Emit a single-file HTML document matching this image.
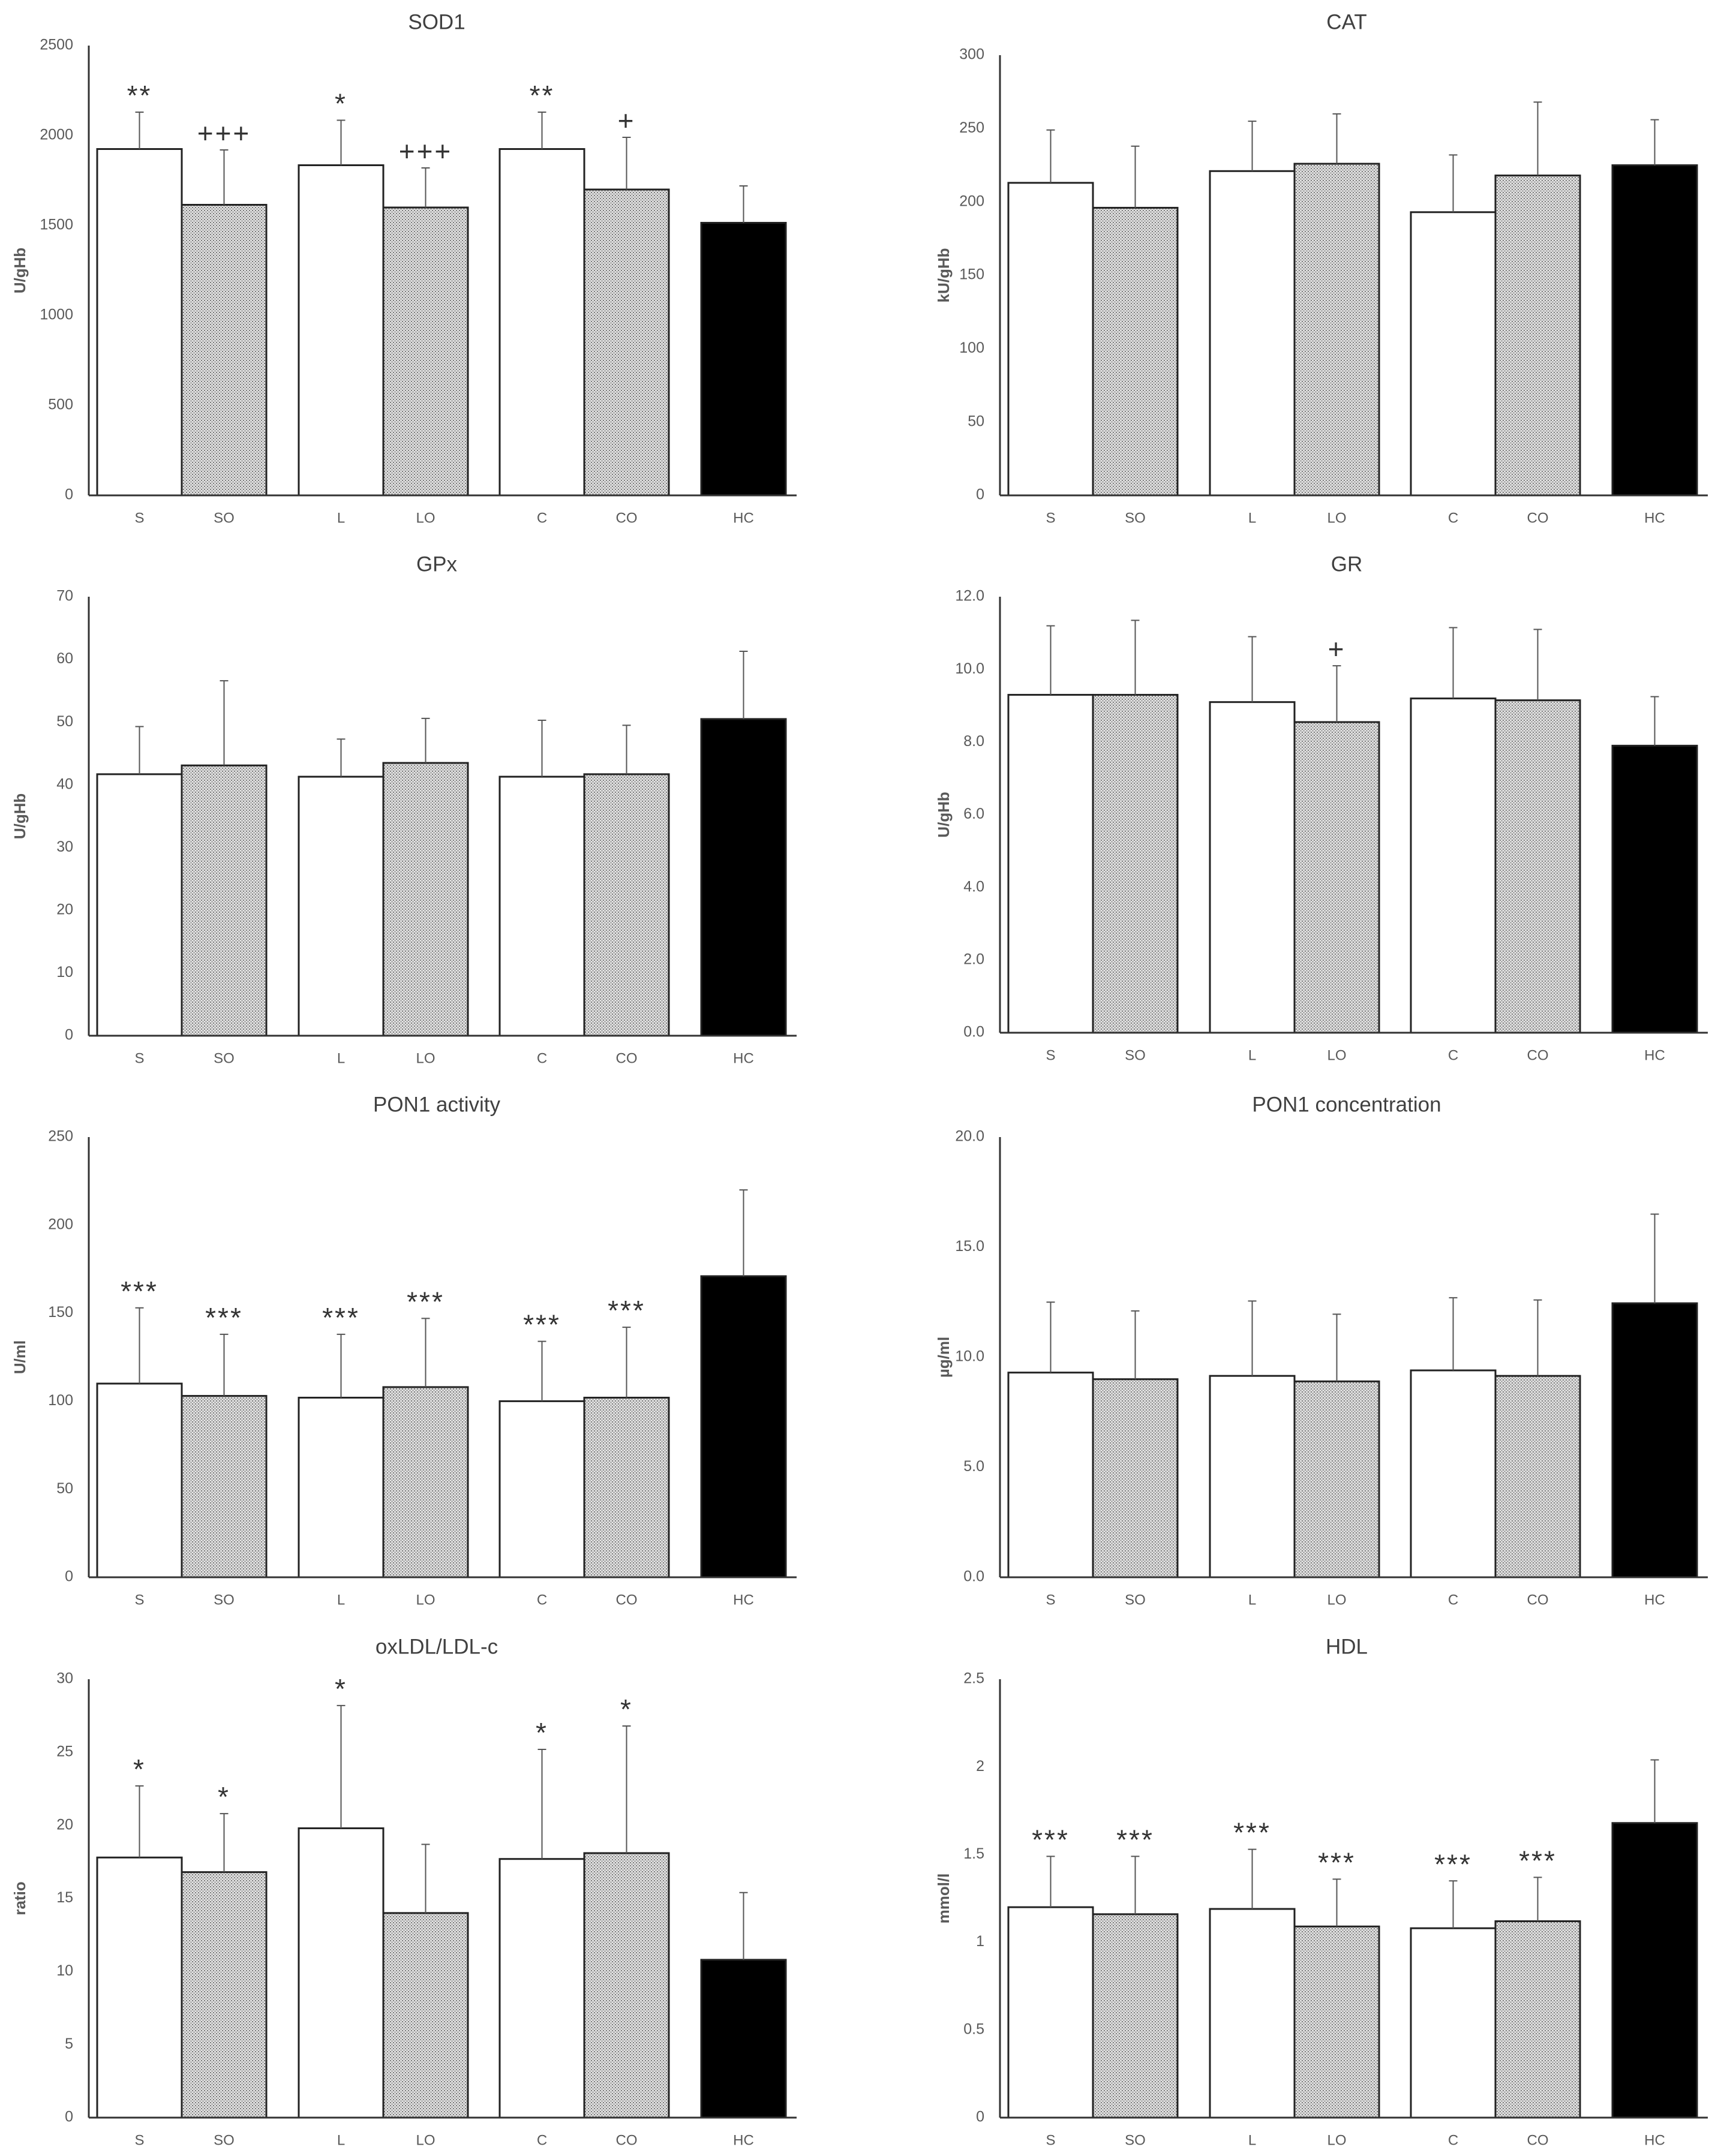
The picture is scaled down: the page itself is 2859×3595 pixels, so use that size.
<!DOCTYPE html>
<html><head><meta charset="utf-8">
<style>
html,body{margin:0;padding:0;background:#fff;}
svg{display:block;font-family:"Liberation Sans",sans-serif;}
</style></head>
<body>
<svg id="fig" width="2859" height="3595" viewBox="0 0 2859 3595" xmlns="http://www.w3.org/2000/svg">
<defs>
<pattern id="dots" width="5" height="5" patternUnits="userSpaceOnUse">
<rect width="5" height="5" fill="#e2e2e2"/>
<rect x="0" y="0" width="2" height="2" fill="#7a7a7a"/>
<rect x="2.5" y="2.5" width="2" height="2" fill="#8a8a8a"/>
</pattern>
</defs>
<g id="charts"></g>
</svg>
<script>
const categories = ["S","SO","L","LO","C","CO","HC"];
const fills = ["white","dots","white","dots","white","dots","black"];

const sod1Values = [1925,1615,1835,1600,1925,1700,1515];
const sod1Errors = [205,305,250,220,205,290,205];
const sod1Marks = ["**","+++","*","+++","**","+",""];
const sod1Ticks = ["0","500","1000","1500","2000","2500"];

const catValues = [213,196,221,226,193,218,225];
const catErrors = [36,42,34,34,39,50,31];
const catMarks = ["","","","","","",""];
const catTicks = ["0","50","100","150","200","250","300"];

const gpxValues = [41.7,43.1,41.3,43.5,41.3,41.7,50.5];
const gpxErrors = [7.6,13.5,6.0,7.1,9.0,7.8,10.8];
const gpxMarks = ["","","","","","",""];
const gpxTicks = ["0","10","20","30","40","50","60","70"];

const grValues = [9.3,9.3,9.1,8.55,9.2,9.15,7.9];
const grErrors = [1.9,2.05,1.8,1.55,1.95,1.95,1.35];
const grMarks = ["","","","+","","",""];
const grTicks = ["0.0","2.0","4.0","6.0","8.0","10.0","12.0"];

const ponActValues = [110,103,102,108,100,102,171];
const ponActErrors = [43,35,36,39,34,40,49];
const ponActMarks = ["***","***","***","***","***","***",""];
const ponActTicks = ["0","50","100","150","200","250"];

const ponConcValues = [9.3,9.0,9.15,8.9,9.4,9.15,12.45];
const ponConcErrors = [3.2,3.1,3.4,3.05,3.3,3.45,4.05];
const ponConcMarks = ["","","","","","",""];
const ponConcTicks = ["0.0","5.0","10.0","15.0","20.0"];

const oxValues = [17.8,16.8,19.8,14.0,17.7,18.1,10.8];
const oxErrors = [4.9,4.0,8.4,4.7,7.5,8.7,4.6];
const oxMarks = ["*","*","*","","*","*",""];
const oxTicks = ["0","5","10","15","20","25","30"];

const hdlValues = [1.2,1.16,1.19,1.09,1.08,1.12,1.68];
const hdlErrors = [0.29,0.33,0.34,0.27,0.27,0.25,0.36];
const hdlMarks = ["***","***","***","***","***","***",""];
const hdlTicks = ["0","0.5","1","1.5","2","2.5"];

const NS = "http://www.w3.org/2000/svg";
const root = document.getElementById("charts");
const barOffsets = [14,155,350,491,685,826,1021];
const barW = 141;

function mk(tag, attrs, parent){
  const e = document.createElementNS(NS, tag);
  for (const k in attrs) e.setAttribute(k, attrs[k]);
  parent.appendChild(e);
  return e;
}

function chart(cfg){
  const g = mk("g", {}, root);
  
  
  const maxV = parseFloat(cfg.ticks[cfg.ticks.length-1]);
  const y = v => cfg.zero - (v / maxV) * (cfg.zero - cfg.top);
  const x = i => cfg.ax + barOffsets[i];

  const t = mk("text", {x: cfg.tx, y: cfg.ty, "font-size": 35, fill: "#404040", "text-anchor": "middle", "dominant-baseline": "middle"}, g);
  t.textContent = cfg.title;
  
  

  const cy = (cfg.top + cfg.zero) / 2;
  const yt = mk("text", {x: cfg.yx, y: cy, "font-size": 26, "font-weight": "bold", fill: "#595959", "text-anchor": "middle", "dominant-baseline": "middle", transform: `rotate(-90 ${cfg.yx} ${cy})`}, g);
  yt.textContent = cfg.ylabel;
  
  

  cfg.ticks.forEach(tl => {
    const tt = mk("text", {x: cfg.ax - 26, y: y(parseFloat(tl)), "font-size": 25, fill: "#595959", "text-anchor": "end", "dominant-baseline": "middle"}, g);
    tt.textContent = tl;
    
    
  });

  categories.forEach((c, i) => {
    const v = cfg.values[i];
    const f = fills[i] === "dots" ? "url(#dots)" : fills[i];
    const r = mk("rect", {x: x(i), y: y(v), width: barW, height: cfg.zero - y(v), fill: f, stroke: "#222", "stroke-width": 3}, g);
    
    
    const cx = x(i) + barW / 2;
    const et = y(v + cfg.errors[i]);
    const el = mk("path", {d: `M${cx} ${y(v)}V${et}M${cx-7} ${et}H${cx+7}`, stroke: "#555", "stroke-width": 2, fill: "none"}, g);
    
    
    if (cfg.marks[i]) {
      const m = mk("text", {x: cx, y: et - 12, "font-size": 46, fill: "#333", "text-anchor": "middle", "letter-spacing": 3}, g);
      m.textContent = cfg.marks[i];
      
      
    }
    const xl = mk("text", {x: cx, y: cfg.zero + 39, "font-size": 24, fill: "#595959", "text-anchor": "middle", "dominant-baseline": "middle"}, g);
    xl.textContent = c;
    
    
  });

  const ya = mk("line", {x1: cfg.ax, y1: cfg.top, x2: cfg.ax, y2: cfg.zero, stroke: "#333", "stroke-width": 3}, g);
  
  
  const xa = mk("line", {x1: cfg.ax, y1: cfg.zero, x2: cfg.ax + 1180, y2: cfg.zero, stroke: "#333", "stroke-width": 3}, g);
  
  
}

const L = {ax:148, tx:728, yx:35};
const R = {ax:1667, tx:2245, yx:1575};

chart({id:"sod1", title:"SOD1", ylabel:"U/gHb", ...L, top:76, zero:826, ty:39, values:sod1Values, errors:sod1Errors, marks:sod1Marks, ticks:sod1Ticks});
chart({id:"cat", title:"CAT", ylabel:"kU/gHb", ...R, top:92, zero:826, ty:39, values:catValues, errors:catErrors, marks:catMarks, ticks:catTicks});
chart({id:"gpx", title:"GPx", ylabel:"U/gHb", ...L, top:995, zero:1727, ty:943, values:gpxValues, errors:gpxErrors, marks:gpxMarks, ticks:gpxTicks});
chart({id:"gr", title:"GR", ylabel:"U/gHb", ...R, top:995, zero:1722, ty:943, values:grValues, errors:grErrors, marks:grMarks, ticks:grTicks});
chart({id:"pon1-activity", title:"PON1 activity", ylabel:"U/ml", ...L, top:1896, zero:2630, ty:1844, values:ponActValues, errors:ponActErrors, marks:ponActMarks, ticks:ponActTicks});
chart({id:"pon1-concentration", title:"PON1 concentration", ylabel:"µg/ml", ...R, top:1896, zero:2630, ty:1844, values:ponConcValues, errors:ponConcErrors, marks:ponConcMarks, ticks:ponConcTicks});
chart({id:"oxldl", title:"oxLDL/LDL-c", ylabel:"ratio", ...L, top:2800, zero:3531, ty:2748, values:oxValues, errors:oxErrors, marks:oxMarks, ticks:oxTicks});
chart({id:"hdl", title:"HDL", ylabel:"mmol/l", ...R, top:2800, zero:3531, ty:2748, values:hdlValues, errors:hdlErrors, marks:hdlMarks, ticks:hdlTicks});
</script>
</body></html>
